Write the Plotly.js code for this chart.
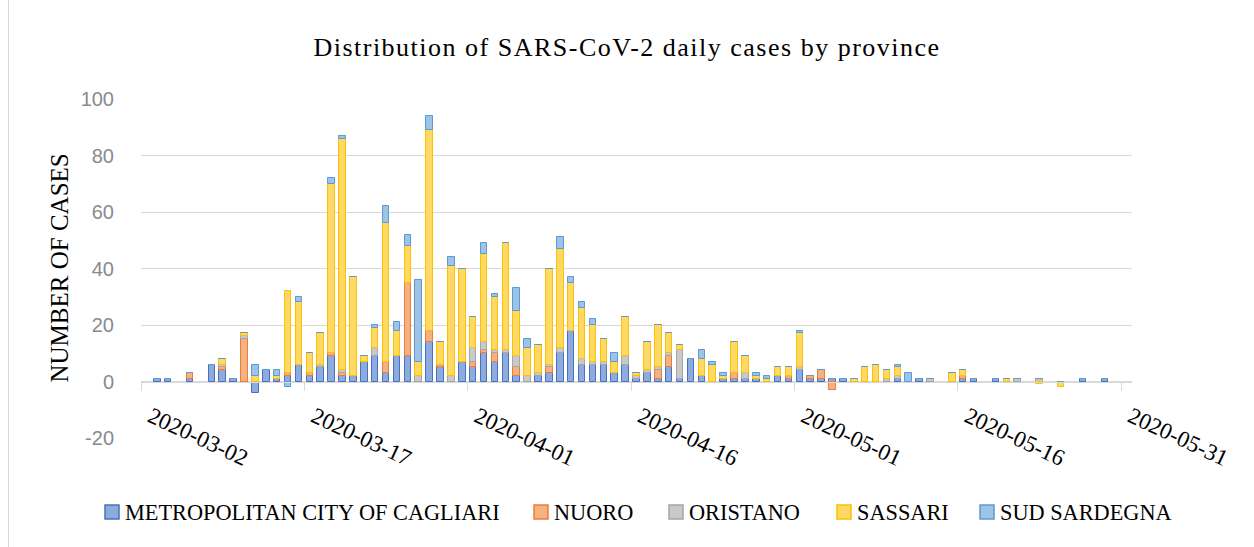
<!DOCTYPE html>
<html>
<head>
<meta charset="utf-8">
<script src="https://cdn.plot.ly/plotly-3.0.1.min.js"></script>
<style>
  html, body { margin: 0; padding: 0; background: #ffffff; }
  #wrap { position: relative; width: 1254px; height: 547px; }
  #chart { position: absolute; left: 0; top: 0; width: 1254px; height: 547px; }
  #edge { position: absolute; left: 8px; top: 0; width: 0; height: 547px; border-left: 1px solid #d9d9d9; }
  #chart .gtitle { letter-spacing: 1.5px; }
</style>
</head>
<body>
<div id="wrap"><div id="chart"></div><div id="edge"></div></div>
<script>
// Report dates (days with at least one reported change)
var dates = [
  '2020-03-03','2020-03-04','2020-03-06','2020-03-08','2020-03-09','2020-03-10','2020-03-11','2020-03-12',
  '2020-03-13','2020-03-14','2020-03-15','2020-03-16','2020-03-17','2020-03-18','2020-03-19','2020-03-20',
  '2020-03-21','2020-03-22','2020-03-23','2020-03-24','2020-03-25','2020-03-26','2020-03-27','2020-03-28',
  '2020-03-29','2020-03-30','2020-03-31','2020-04-01','2020-04-02','2020-04-03','2020-04-04','2020-04-05',
  '2020-04-06','2020-04-07','2020-04-08','2020-04-09','2020-04-10','2020-04-11','2020-04-12','2020-04-13',
  '2020-04-14','2020-04-15','2020-04-16','2020-04-17','2020-04-18','2020-04-19','2020-04-20','2020-04-21',
  '2020-04-22','2020-04-23','2020-04-24','2020-04-25','2020-04-26','2020-04-27','2020-04-28','2020-04-29',
  '2020-04-30','2020-05-01','2020-05-02','2020-05-03','2020-05-04','2020-05-05','2020-05-06','2020-05-07',
  '2020-05-08','2020-05-09','2020-05-10','2020-05-11','2020-05-12','2020-05-13','2020-05-15','2020-05-16',
  '2020-05-17','2020-05-19','2020-05-20','2020-05-21','2020-05-23','2020-05-25','2020-05-27','2020-05-29'
];

var cagliari = [
  1,1,1,6,4,1,0,-4,
  4,1,2,6,2,5,9,2,
  2,7,9,3,9,9,0,14,
  5,0,7,5,10,7,10,2,
  0,2,3,10,18,6,6,6,
  3,6,1,3,1,5,1,8,
  2,0,1,1,1,1,0,2,
  1,4,1,1,1,1,0,0,
  0,0,1,0,1,0,0,1,
  1,1,0,0,0,0,1,1
];
var nuoro = [
  0,0,2,0,1,0,15,0,
  0,0,1,0,1,0,1,1,
  0,0,0,4,0,26,0,4,
  1,0,0,2,1,3,0,3,
  0,0,2,0,0,0,0,0,
  0,0,0,0,3,4,0,0,
  0,0,0,2,0,0,0,0,
  1,0,1,3,-3,0,0,0,
  0,0,0,0,0,0,0,1,
  0,0,0,0,0,0,0,0
];
var oristano = [
  0,0,0,0,1,0,1,0,
  0,0,0,0,0,1,0,1,
  0,0,3,0,0,0,2,0,
  0,2,0,5,3,1,1,4,
  2,1,1,2,0,2,1,1,
  0,3,1,1,1,1,10,0,
  0,0,0,0,2,0,0,0,
  0,1,0,0,0,0,0,0,
  0,1,1,0,0,1,0,0,
  0,0,0,1,1,0,0,0
];
var sassari = [
  0,0,0,0,2,0,1,2,
  0,1,29,22,7,11,60,82,
  35,2,7,49,9,13,5,71,
  8,39,33,11,31,19,38,16,
  10,10,34,35,17,18,13,8,
  4,14,1,10,15,7,2,0,
  6,6,1,11,6,1,1,3,
  3,12,0,0,0,0,1,5,
  6,3,3,0,0,0,3,2,
  0,0,1,0,-1,-2,0,0
];
var sudSardegna = [
  0,0,0,0,0,0,0,4,
  0,2,-2,2,0,0,2,1,
  0,0,1,6,3,4,29,5,
  0,3,0,0,4,1,0,8,
  3,0,0,4,2,2,2,0,
  3,0,0,0,0,0,0,0,
  3,1,1,0,0,1,1,0,
  0,1,0,0,0,0,0,0,
  0,0,1,3,0,0,0,0,
  0,0,0,0,0,0,0,0
];

var seriesNames = ['METROPOLITAN CITY OF CAGLIARI', 'NUORO', 'ORISTANO', 'SASSARI', 'SUD SARDEGNA'];
var seriesValues = [cagliari, nuoro, oristano, sassari, sudSardegna];
var lineColors = ['#4472C4', '#ED7D31', '#A5A5A5', '#FFC000', '#5B9BD5'];
var fillColors = ['#8FAADC', '#F4B183', '#C9C9C9', '#FFD966', '#9DC3E6'];

var yTickVals = [-20, 0, 20, 40, 60, 80, 100];
var yTickText = ['-20', '0', '20', '40', '60', '80', '100'];

var DAY = 86400000;
var xCentres = dates.map(function (d) { return d + ' 12:00'; });

var traces = seriesNames.map(function (name, i) {
  return {
    type: 'bar',
    name: name,
    x: xCentres,
    y: seriesValues[i],
    width: 0.6 * DAY,
    marker: { color: fillColors[i], line: { color: lineColors[i], width: 1 } },
    hovertemplate: name + '<br>%{x|%Y-%m-%d}: %{y}<extra></extra>'
  };
});

var serif = '"Liberation Serif", "Times New Roman", serif';

// plot area geometry (px) used to place the custom legend
var PL = 141, PW = 991, PT = 99, PH = 339;
function px2x(px) { return (px - PL) / PW; }
function py2y(py) { return (PT + PH - py) / PH; }

// legend layout: marker left edge for each entry
var legendMarkerLeft = [105, 534, 669, 837, 980];
var legendY = 512;
var shapes = [];
var annotations = [{
  text: 'NUMBER OF CASES',
  xref: 'paper', yref: 'paper',
  x: px2x(59), y: 0.5,
  xanchor: 'center', yanchor: 'middle',
  textangle: -90,
  showarrow: false,
  font: { family: serif, size: 25, color: '#000000' }
}];
seriesNames.forEach(function (name, i) {
  var l = legendMarkerLeft[i];
  shapes.push({
    type: 'rect', xref: 'paper', yref: 'paper',
    x0: px2x(l), x1: px2x(l + 14),
    y0: py2y(legendY + 7), y1: py2y(legendY - 7),
    fillcolor: fillColors[i],
    line: { color: lineColors[i], width: 1.5 }
  });
  annotations.push({
    text: name,
    xref: 'paper', yref: 'paper',
    x: px2x(l + 18), y: py2y(legendY),
    xanchor: 'left', yanchor: 'middle',
    showarrow: false,
    font: { family: serif, size: 22.3, color: '#000000' }
  });
});

var layout = {
  width: 1254,
  height: 547,
  paper_bgcolor: '#ffffff',
  plot_bgcolor: '#ffffff',
  margin: { l: PL, r: 1254 - PL - PW, t: PT, b: 547 - PT - PH, autoexpand: false },
  barmode: 'relative',
  title: {
    text: 'Distribution of SARS-CoV-2 daily cases by province',
    font: { family: serif, size: 26, color: '#000000' },
    x: 0.5, xanchor: 'center',
    y: 1 - 47 / 547, yanchor: 'middle'
  },
  xaxis: {
    type: 'date',
    range: ['2020-03-02', '2020-06-01'],
    tick0: '2020-03-02',
    dtick: 15 * DAY,
    tickformat: '%Y-%m-%d',
    tickangle: 25,
    anchor: 'free',
    position: 20 / 120,
    showgrid: false,
    showline: true,
    linecolor: '#d9d9d9',
    linewidth: 1,
    ticks: 'outside',
    ticklen: 8,
    tickcolor: '#d9d9d9',
    ticklabelstandoff: 4,
    ticklabelshift: 10,
    tickfont: { family: serif, size: 23, color: '#000000' },
    zeroline: false,
    fixedrange: true
  },
  yaxis: {
    range: [-20, 100],
    tickvals: yTickVals,
    ticktext: yTickText,
    showgrid: true,
    gridcolor: '#d9d9d9',
    gridwidth: 1,
    zeroline: false,
    showline: false,
    ticks: 'outside',
    ticklen: 22,
    tickcolor: 'rgba(0,0,0,0)',
    tickfont: { family: '"Liberation Sans", Arial, sans-serif', size: 20, color: '#8a8a8a' },
    fixedrange: true
  },
  shapes: shapes,
  annotations: annotations,
  showlegend: false,
  bargap: 0
};

Plotly.newPlot('chart', traces, layout, { displayModeBar: false });
</script>
</body>
</html>
